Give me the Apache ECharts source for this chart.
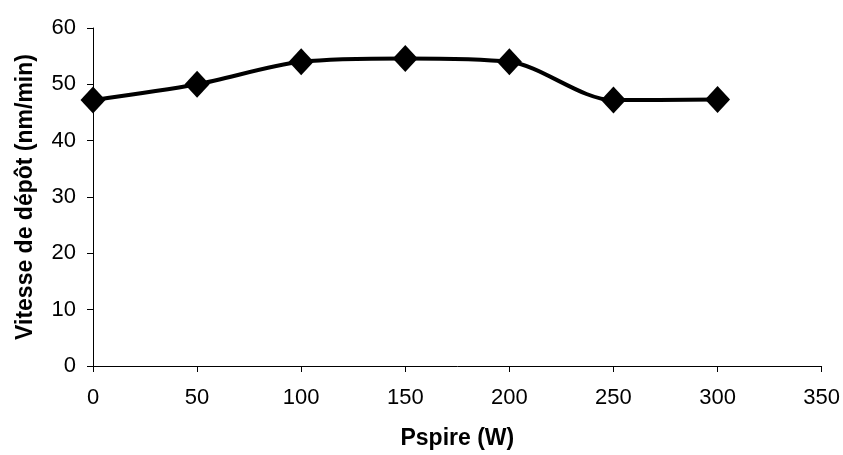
<!DOCTYPE html>
<html><head><meta charset="utf-8">
<script src="https://cdn.jsdelivr.net/npm/echarts@6/dist/echarts.min.js"></script>
<style>html,body{margin:0;padding:0;background:#fff}#c{width:843px;height:455px}</style>
</head><body><div id="c"></div>
<script>
var pspire = [0, 50, 100, 150, 200, 250, 300];
var vitesse = [47.2, 50.0, 54.0, 54.6, 54.0, 47.2, 47.3];
var xTitle = 'Pspire (W)';
var yTitle = 'Vitesse de dépôt (nm/min)';

var chart = echarts.init(document.getElementById('c'));
var font = '"Liberation Sans", Arial, sans-serif';
chart.setOption({
  animation: false,
  grid: { left: 93, right: 20, top: 28, bottom: 84 },
  xAxis: {
    type: 'value', min: 0, max: 350, interval: 50,
    name: xTitle, nameLocation: 'middle', nameGap: 61,
    nameTextStyle: { fontFamily: font, fontSize: 23, fontWeight: 'bold', color: '#000' },
    axisLine: { lineStyle: { color: '#000', width: 1 } },
    axisTick: { show: true, length: 6, lineStyle: { color: '#000' } },
    axisLabel: { fontFamily: font, fontSize: 22, color: '#000', margin: 21 },
    splitLine: { show: false }
  },
  yAxis: {
    type: 'value', min: 0, max: 60, interval: 10,
    name: yTitle, nameLocation: 'middle', nameGap: 56,
    nameTextStyle: { fontFamily: font, fontSize: 23, fontWeight: 'bold', color: '#000' },
    axisLine: { show: true, lineStyle: { color: '#000', width: 1 } },
    axisTick: { show: true, length: 6, lineStyle: { color: '#000' } },
    axisLabel: { fontFamily: font, fontSize: 22, color: '#000', margin: 17 },
    splitLine: { show: false }
  },
  series: [{
    type: 'line',
    data: pspire.map(function (x, i) { return [x, vitesse[i]]; }),
    smooth: 0.3,
    symbol: 'diamond', symbolSize: [25, 27],
    itemStyle: { color: '#000' },
    lineStyle: { color: '#000', width: 4 }
  }]
});
</script></body></html>
